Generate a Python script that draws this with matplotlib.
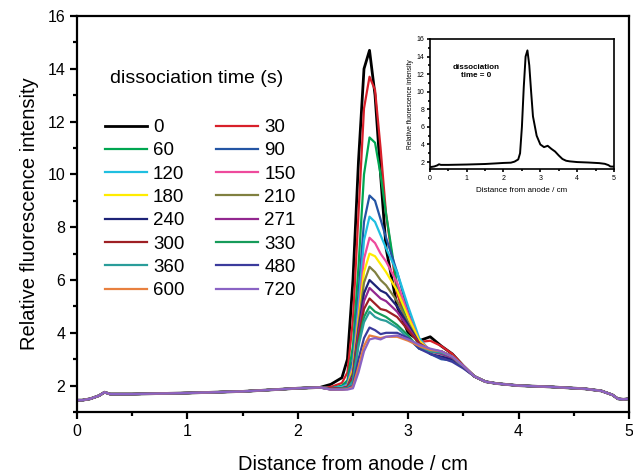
import numpy as np
import matplotlib
matplotlib.use("Agg")
import matplotlib.pyplot as plt
from matplotlib.ticker import MultipleLocator

plt.rcParams["font.family"] = ["Liberation Sans", "DejaVu Sans"]

# dissociation times (s) and line colours
times = [0, 30, 60, 90, 120, 150, 180, 210, 240, 271, 300, 330, 360, 480, 600, 720]
colors = ["#000000", "#d8202a", "#00a651", "#2455a4", "#1fbfe0", "#ee4a9c",
          "#ffec00", "#808040", "#1d2377", "#92278f", "#9e1f24", "#169b5a",
          "#2a9d9a", "#3b3b9c", "#e8803f", "#8a63c4"]

# shared baseline left of the band
x_left = [0.0, 0.05, 0.12, 0.2, 0.25, 0.3, 0.5, 1.0, 1.5, 1.8, 2.0, 2.2]
y_left = [1.45, 1.45, 1.5, 1.62, 1.75, 1.68, 1.68, 1.72, 1.78, 1.85, 1.9, 1.93]

# band region, one list per dissociation time
x_peak = [2.3, 2.4, 2.45, 2.5, 2.55, 2.6, 2.65, 2.7, 2.75, 2.8, 2.9, 3.0,
          3.1, 3.2, 3.3, 3.4, 3.5]
y_peak = {
    0:   [2.05, 2.3, 3.0, 6.0, 10.5, 14.0, 14.7, 13.0, 10.0, 7.2, 5.0, 4.0, 3.7, 3.85, 3.5, 3.2, 2.75],
    30:  [1.95, 2.1, 2.5, 4.5, 8.5, 12.5, 13.7, 13.2, 11.0, 8.5, 5.5, 4.2, 3.65, 3.7, 3.5, 3.2, 2.75],
    60:  [1.9, 2.0, 2.2, 3.5, 6.5, 10.0, 11.4, 11.2, 10.0, 8.5, 5.8, 4.3, 3.5, 3.3, 3.25, 3.1, 2.7],
    90:  [1.9, 1.95, 2.1, 3.0, 5.5, 8.2, 9.2, 9.0, 8.3, 7.6, 6.3, 4.8, 3.6, 3.2, 3.0, 2.95, 2.7],
    120: [1.9, 1.95, 2.05, 2.8, 5.0, 7.5, 8.4, 8.2, 7.7, 7.2, 6.3, 5.0, 3.8, 3.3, 3.2, 3.0, 2.7],
    150: [1.88, 1.9, 2.0, 2.7, 4.7, 6.8, 7.6, 7.4, 7.0, 6.7, 5.9, 4.7, 3.7, 3.35, 3.3, 3.1, 2.7],
    180: [1.88, 1.9, 1.98, 2.6, 4.5, 6.3, 7.0, 6.9, 6.6, 6.3, 5.6, 4.6, 3.7, 3.3, 3.2, 3.05, 2.7],
    210: [1.88, 1.9, 1.97, 2.5, 4.3, 5.9, 6.5, 6.3, 6.0, 5.8, 5.2, 4.4, 3.6, 3.35, 3.25, 3.1, 2.7],
    240: [1.88, 1.9, 1.95, 2.4, 4.1, 5.5, 6.0, 5.8, 5.6, 5.5, 5.0, 4.3, 3.6, 3.2, 3.1, 3.0, 2.7],
    271: [1.88, 1.9, 1.95, 2.35, 4.0, 5.2, 5.7, 5.5, 5.3, 5.2, 4.8, 4.2, 3.6, 3.3, 3.2, 3.05, 2.7],
    300: [1.88, 1.9, 1.93, 2.3, 3.8, 4.9, 5.3, 5.1, 4.9, 4.85, 4.6, 4.1, 3.6, 3.35, 3.3, 3.1, 2.7],
    330: [1.86, 1.88, 1.9, 2.2, 3.6, 4.6, 5.0, 4.8, 4.7, 4.6, 4.3, 3.9, 3.4, 3.3, 3.3, 3.1, 2.7],
    360: [1.86, 1.88, 1.9, 2.15, 3.5, 4.4, 4.8, 4.6, 4.5, 4.45, 4.2, 3.8, 3.4, 3.3, 3.25, 3.1, 2.7],
    480: [1.85, 1.85, 1.88, 2.0, 3.0, 3.8, 4.2, 4.1, 3.95, 4.0, 4.0, 3.8, 3.4, 3.2, 3.05, 2.9, 2.65],
    600: [1.85, 1.85, 1.87, 1.95, 2.7, 3.5, 3.9, 3.85, 3.8, 3.85, 3.85, 3.7, 3.5, 3.35, 3.3, 3.1, 2.75],
    720: [1.85, 1.85, 1.85, 1.9, 2.5, 3.3, 3.75, 3.8, 3.75, 3.85, 3.9, 3.75, 3.55, 3.4, 3.3, 3.1, 2.75],
}

# shared tail right of the band
x_right = [3.6, 3.7, 3.8, 4.0, 4.3, 4.6, 4.75, 4.85, 4.9, 4.95, 5.0]
y_right = [2.35, 2.15, 2.08, 2.0, 1.95, 1.88, 1.8, 1.65, 1.5, 1.48, 1.5]


def full_curve(t):
    x = np.array(x_left + x_peak + x_right)
    y = np.array(y_left + y_peak[t] + y_right)
    return x, y


def style_axes(ax, lw, maj, mnr, fs):
    for s in ax.spines.values():
        s.set_linewidth(lw)
    ax.tick_params(which="major", direction="out", length=maj, width=lw,
                   labelsize=fs, top=False, right=False)
    ax.tick_params(which="minor", direction="out", length=mnr, width=lw,
                   top=False, right=False)


fig = plt.figure(figsize=(6.33, 4.75), dpi=100)
ax = fig.add_axes([0.1216, 0.1326, 0.872, 0.8337])

handles = {}
for t, c in zip(times, colors):
    x, y = full_curve(t)
    lw = 2.0 if t == 0 else 1.6
    handles[t], = ax.plot(x, y, color=c, lw=lw, label=str(t))

ax.set_xlim(0, 5)
ax.set_ylim(1, 16)
ax.xaxis.set_major_locator(MultipleLocator(1))
ax.xaxis.set_minor_locator(MultipleLocator(0.5))
ax.yaxis.set_minor_locator(MultipleLocator(1))
ax.set_yticks([2, 4, 6, 8, 10, 12, 14, 16])
style_axes(ax, 1.6, 5, 3, 11.5)
ax.set_xlabel("Distance from anode / cm", fontsize=14.5, labelpad=12)
ax.set_ylabel("Relative fluorescence intensity", fontsize=14.5, labelpad=6)

# legend, column-first order as in the figure
order = [0, 60, 120, 180, 240, 300, 360, 600, 30, 90, 150, 210, 271, 330, 480, 720]
ax.text(0.216, 0.843, "dissociation time (s)", transform=ax.transAxes,
        fontsize=14, ha="center", va="center")
ax.legend([handles[t] for t in order], [str(t) for t in order], ncol=2,
          loc="upper left", bbox_to_anchor=(0.0507, 0.740), frameon=False,
          fontsize=13.5, handlelength=2.24, handletextpad=0.32,
          columnspacing=1.7, labelspacing=0.33, borderpad=0, borderaxespad=0)

# inset: time 0 only
ins = fig.add_axes([0.679, 0.644, 0.291, 0.274])
x0, y0 = full_curve(0)
ins.plot(x0, y0, color="black", lw=1.4)
ins.set_xlim(0, 5)
ins.set_ylim(1.2, 16)
ins.xaxis.set_major_locator(MultipleLocator(1))
ins.xaxis.set_minor_locator(MultipleLocator(0.5))
ins.set_yticks([2, 4, 6, 8, 10, 12, 14, 16])
ins.yaxis.set_minor_locator(MultipleLocator(1))
style_axes(ins, 1.2, 2.5, 1.5, 5)
ins.tick_params(which="major", pad=1.5)
ins.set_xlabel("Distance from anode / cm", fontsize=5.75, labelpad=4)
ins.set_ylabel("Relative fluorescence intensity", fontsize=4.8, labelpad=2)
ins.text(0.25, 0.75, "dissociation\ntime = 0", transform=ins.transAxes,
         fontsize=5.75, fontweight="bold", ha="center", va="center")

fig.savefig("out.png", dpi=100)
